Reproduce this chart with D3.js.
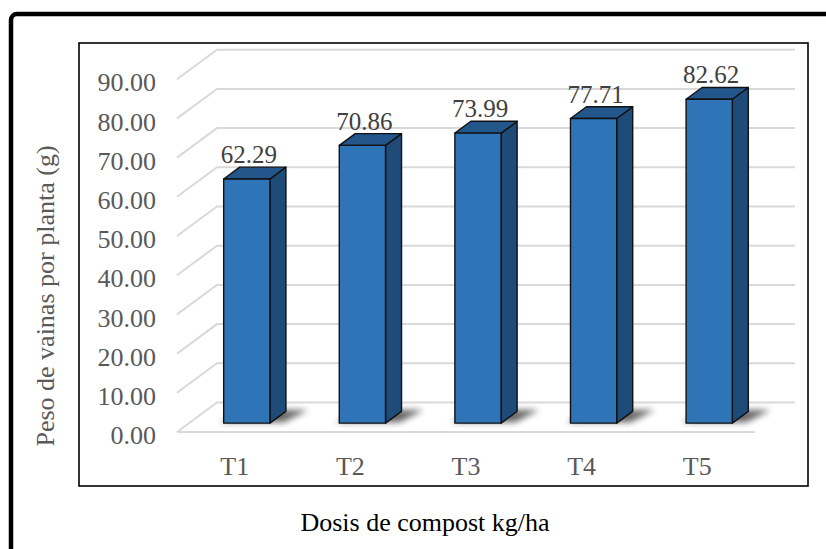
<!DOCTYPE html>
<html>
<head>
<meta charset="utf-8">
<script src="https://cdn.jsdelivr.net/npm/d3@7"></script>
<style>
  html, body { margin: 0; padding: 0; background: #fff; }
  svg { display: block; }
</style>
</head>
<body>
<svg id="chart" width="826" height="549"></svg>
<script>
// Treatments and mean pod weight per plant (g)
const categories = ["T1", "T2", "T3", "T4", "T5"];
const values = [62.29, 70.86, 73.99, 77.71, 82.62];
const yTicks = [0, 10, 20, 30, 40, 50, 60, 70, 80, 90];
const xTitle = "Dosis de compost kg/ha";
const yTitle = "Peso de vainas por planta (g)";

const FONT = "Liberation Serif";
const svg = d3.select("#chart");

// Pseudo-3D geometry: floor front edge, depth offset of the back wall
const floorLeft = 177, floorRight = 755;
const depthDx = 40, depthDy = -29.5;
const barFront = 0.3, barBack = 0.7;   // bar position within floor depth

const x = d3.scaleBand().domain(categories)
  .range([floorLeft, floorRight]).paddingInner(0.6).paddingOuter(0.3);
const y = d3.scaleLinear().domain([0, 90]).range([432, 79.2]);

// projection of (screen x at front, value, depth fraction)
const px = (xf, d) => xf + d * depthDx;
const py = (v, d) => y(v) + d * depthDy;

const defs = svg.append("defs");
defs.append("filter").attr("id", "shadowBlur")
  .attr("x", "-50%").attr("y", "-100%").attr("width", "200%").attr("height", "300%")
  .append("feGaussianBlur").attr("stdDeviation", 3);
defs.append("filter").attr("id", "soft")
  .append("feGaussianBlur").attr("stdDeviation", 0.5);

// outer frame
svg.append("rect")
  .attr("x", 11).attr("y", 14).attr("width", 900).attr("height", 700)
  .attr("rx", 6).attr("fill", "none").attr("stroke", "#000").attr("stroke-width", 4.5);

// plot frame
svg.append("rect")
  .attr("x", 79).attr("y", 43).attr("width", 729).attr("height", 443)
  .attr("fill", "#fff").attr("stroke", "#000").attr("stroke-width", 1.6);

// gridlines: left side wall + back wall
const grid = svg.append("g").attr("fill", "none")
  .attr("stroke", "#d9d9d9").attr("stroke-width", 2).attr("filter", "url(#soft)");
grid.selectAll("path.g").data(yTicks).join("path").attr("class", "g")
  .attr("d", v => `M${floorLeft},${py(v, 0)} L${px(floorLeft, 1)},${py(v, 1)} L${px(floorRight, 1)},${py(v, 1)}`);
// floor front edge
grid.append("path").attr("d", `M${floorLeft},${py(0, 0)} L${floorRight},${py(0, 0)}`);

// y axis labels
const yAxis = svg.append("g")
  .attr("transform", `translate(${floorLeft},0)`)
  .call(d3.axisLeft(y).tickValues(yTicks).tickFormat(d3.format(".2f")).tickSize(0).tickPadding(21))
  .attr("font-family", FONT);
yAxis.select(".domain").remove();
yAxis.selectAll("text")
  .attr("dy", "0.45em")
  .attr("font-family", FONT).attr("font-size", 26).attr("fill", "#595959");

// x axis labels
const xAxis = svg.append("g")
  .attr("transform", `translate(0,${py(0, 0)})`)
  .call(d3.axisBottom(x).tickSize(0).tickPadding(0))
  .attr("font-family", FONT);
xAxis.select(".domain").remove();
xAxis.selectAll("text")
  .attr("y", 43).attr("dy", 0)
  .attr("font-family", FONT).attr("font-size", 26).attr("fill", "#595959");

// bars
const bw = x.bandwidth();
const bars = svg.append("g").selectAll("g.bar")
  .data(categories.map((c, i) => ({ c, v: values[i] })))
  .join("g").attr("class", "bar");

// base shadow
bars.append("path")
  .attr("fill", "#000").attr("opacity", 0.6).attr("filter", "url(#shadowBlur)")
  .attr("d", d => {
    const xl = x(d.c);
    const a = [px(xl - 4, barFront), py(0, barFront) - 1];
    const b = [px(xl + bw + 14, barFront), py(0, barFront) - 1];
    const c = [px(xl + bw + 20, barBack + 0.05), py(0, barBack + 0.05)];
    const e = [px(xl + 4, barBack + 0.05), py(0, barBack + 0.05)];
    return `M${a}L${b}L${c}L${e}Z`;
  });

const edge = { stroke: "#111", "stroke-width": 1.4, "stroke-linejoin": "round" };
function styled(sel) { Object.entries(edge).forEach(([k, v]) => sel.attr(k, v)); return sel; }

// side face
styled(bars.append("path").attr("fill", "#1f4b79")
  .attr("d", d => {
    const xr = x(d.c) + bw;
    return `M${px(xr, barFront)},${py(0, barFront)} L${px(xr, barBack)},${py(0, barBack)} ` +
      `L${px(xr, barBack)},${py(d.v, barBack)} L${px(xr, barFront)},${py(d.v, barFront)}Z`;
  }));
// top face
styled(bars.append("path").attr("fill", "#23578c")
  .attr("d", d => {
    const xl = x(d.c), xr = xl + bw;
    return `M${px(xl, barFront)},${py(d.v, barFront)} L${px(xl, barBack)},${py(d.v, barBack)} ` +
      `L${px(xr, barBack)},${py(d.v, barBack)} L${px(xr, barFront)},${py(d.v, barFront)}Z`;
  }));
// front face
styled(bars.append("rect").attr("fill", "#2e74b7")
  .attr("x", d => px(x(d.c), barFront))
  .attr("y", d => py(d.v, barFront))
  .attr("width", bw)
  .attr("height", d => py(0, barFront) - py(d.v, barFront)));

// value labels
bars.append("text")
  .attr("x", d => px(x(d.c), barFront) + bw / 2 + 2)
  .attr("y", d => py(d.v, barBack) - 4)
  .attr("text-anchor", "middle")
  .attr("font-family", FONT).attr("font-size", 25).attr("fill", "#404040")
  .text(d => d3.format(".2f")(d.v));

// axis titles
svg.append("text")
  .attr("x", 425).attr("y", 531)
  .attr("text-anchor", "middle")
  .attr("font-family", FONT).attr("font-size", 26).attr("fill", "#000")
  .text(xTitle);
svg.append("text")
  .attr("transform", "translate(54,296) rotate(-90)")
  .attr("text-anchor", "middle")
  .attr("font-family", FONT).attr("font-size", 26).attr("fill", "#595959")
  .text(yTitle);
</script>
</body>
</html>
